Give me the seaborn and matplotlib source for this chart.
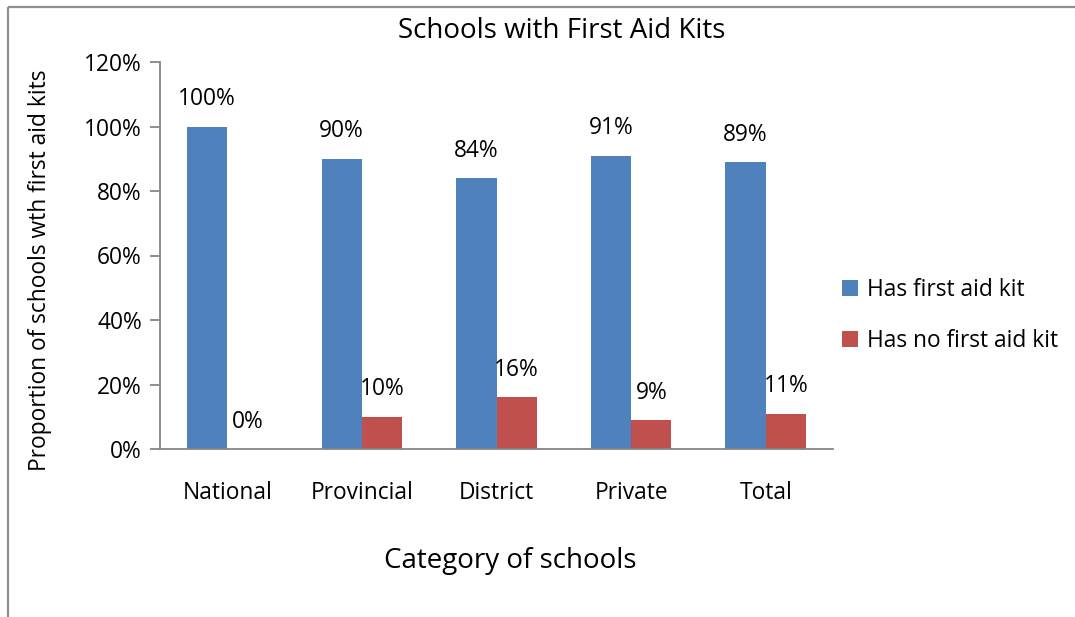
import matplotlib
matplotlib.use('Agg')
import matplotlib.pyplot as plt
import matplotlib.lines as mlines
import pandas as pd
import seaborn as sns

categories = ['National', 'Provincial', 'District', 'Private', 'Total']
has_kit = [1.00, 0.90, 0.84, 0.91, 0.89]
no_kit = [0.00, 0.10, 0.16, 0.09, 0.11]
series = ['Has first aid kit', 'Has no first aid kit']
yticks = [0, 0.2, 0.4, 0.6, 0.8, 1.0, 1.2]

df = pd.DataFrame({'Category': categories * 2,
                   'Status': [series[0]] * 5 + [series[1]] * 5,
                   'Value': has_kit + no_kit})

sns.set_style('white')
plt.rcParams['font.family'] = ['Open Sans', 'DejaVu Sans']
plt.rcParams['text.color'] = 'black'
plt.rcParams['xtick.color'] = 'black'
plt.rcParams['ytick.color'] = 'black'
plt.rcParams['axes.labelcolor'] = 'black'

fs = 16.4

fig = plt.figure(figsize=(10.75, 6.17), dpi=100)
ax = fig.add_axes([160/1075, 1-449/617, 673/1075, 387/617])

sns.barplot(data=df, x='Category', y='Value', hue='Status', order=categories,
            hue_order=series, palette=['#4F81BD', '#C0504D'], width=0.6,
            saturation=1, linewidth=0, ax=ax)

for cont in ax.containers:
    for bar in cont:
        v = bar.get_height()
        ax.annotate('{:.0f}%'.format(v*100), (bar.get_x() + bar.get_width()/2, v),
                    xytext=(0, 11), textcoords='offset points', ha='center', va='bottom',
                    fontsize=fs)

ax.set_ylim(0, 1.2)
ax.set_xlim(-0.5, 4.5)
ax.set_yticks(yticks)
ax.set_yticklabels(['{:.0f}%'.format(t*100) for t in yticks], fontsize=fs)
ax.set_xticks(range(5))
ax.set_xticklabels(categories, fontsize=fs)
ax.set_xticks([x - 0.5 for x in range(6)], minor=True)
ax.tick_params(axis='x', which='major', length=0, pad=23)
ax.tick_params(axis='x', which='minor', length=7, color='#868686', width=1.3)
ax.tick_params(axis='y', length=7, color='#868686', width=1.3, pad=6, left=True)

for s in ['top', 'right']:
    ax.spines[s].set_visible(False)
for s in ['left', 'bottom']:
    ax.spines[s].set_color('#868686')
    ax.spines[s].set_linewidth(1.3)

ax.set_xlabel('Category of schools', fontsize=20, va='center')
ax.xaxis.set_label_coords((510 - 160)/673, -(561 - 449)/387)
ax.set_ylabel('Proportion of schools wth first aid kits', fontsize=fs, va='center')
ax.yaxis.set_label_coords((40 - 160)/673, (449 - 270)/387)
fig.text(562/1075, 1-31/617, 'Schools with First Aid Kits', ha='center', va='center', fontsize=20)

ax.legend(loc='center left', bbox_to_anchor=((833 - 160)/673, 0.345), frameon=False,
          fontsize=fs, handlelength=0.7, handleheight=0.7, handletextpad=0.4,
          labelspacing=1.15, borderaxespad=0)

# chart frame (only top and left edges are visible in the crop)
fig.add_artist(mlines.Line2D([8/1075, 8/1075], [0.0, 1-7/617], color='#909090', lw=1.6,
                             solid_capstyle='butt'))
fig.add_artist(mlines.Line2D([8/1075, 1.0], [1-7/617, 1-7/617], color='#909090', lw=1.6,
                             solid_capstyle='butt'))

fig.savefig('out.png', dpi=100)
